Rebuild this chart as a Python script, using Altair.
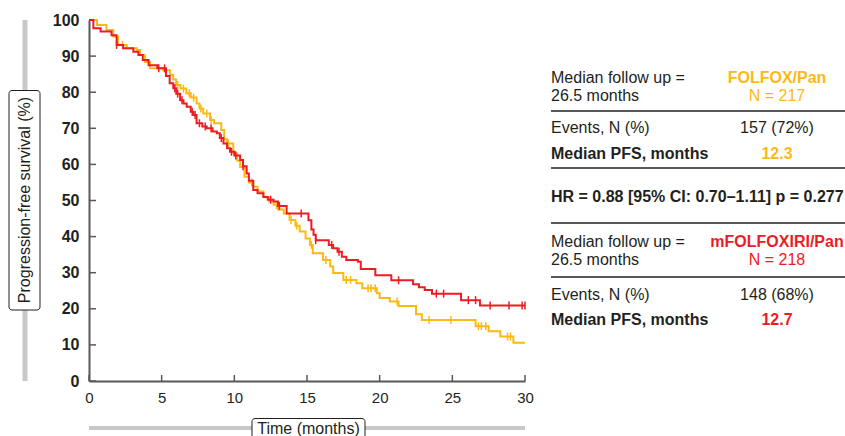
import altair as alt
import pandas as pd

# ---------------- data ----------------
arm_names = ["FOLFOX/Pan", "mFOLFOXIRI/Pan"]
arm_colors = ["#FDB913", "#ED1C24"]

folfox_t = [0, 0.55, 1.2, 1.67, 2.0, 2.6, 3.3, 3.5, 3.85, 4.2, 5.1, 5.57, 5.8, 6.0, 6.3, 6.7, 7.0, 7.4,
            7.6, 7.86, 8.33, 8.6, 9.1, 9.3, 9.5, 9.93, 10.2, 10.4, 10.7, 11.0, 11.3, 11.6, 12.0, 12.4,
            12.7, 13.0, 13.4, 13.8, 14.2, 14.5, 14.9, 15.2, 15.4, 16.1, 16.6, 16.8, 17.5, 18.4, 18.8,
            19.8, 20.0, 20.7, 21.3, 22.5, 22.9, 26.6, 27.5, 28.3, 29.2, 30.0]
folfox_s = [100, 98.6, 97.2, 95.4, 93.1, 92.2, 91.7, 90.3, 88.4, 86.6, 86.1, 84.8, 83.5, 82.0, 81.0,
            79.7, 78.5, 76.9, 75.5, 74.1, 72.3, 71.4, 69.5, 67.0, 65.8, 63.0, 61.0, 59.3, 56.6, 55.0,
            53.8, 52.5, 51.0, 49.7, 48.8, 47.5, 46.4, 44.6, 43.0, 41.4, 39.5, 37.7, 35.4, 33.5, 31.7,
            29.9, 28.0, 27.1, 25.7, 24.3, 23.0, 22.0, 20.8, 18.5, 16.9, 15.2, 13.8, 12.3, 10.6, 10.6]

mfolfoxiri_t = [0, 0.3, 0.8, 1.55, 1.9, 2.35, 3.05, 3.4, 3.7, 4.1, 4.7, 5.3, 5.55, 5.8, 6.0, 6.27, 6.5,
                6.72, 7.0, 7.18, 7.4, 7.8, 8.1, 8.5, 8.8, 9.0, 9.25, 9.5, 9.7, 10.0, 10.4, 10.6, 10.85,
                11.0, 11.3, 11.6, 12.0, 12.3, 12.7, 13.0, 13.6, 15.1, 15.3, 15.45, 15.6, 16.5, 16.8,
                17.1, 17.4, 17.7, 18.5, 18.7, 19.7, 20.8, 22.3, 22.7, 23.1, 23.6, 25.6, 26.9, 30.0]
mfolfoxiri_s = [100, 97.7, 96.8, 95.8, 93.1, 92.2, 91.2, 90.3, 88.9, 87.5, 86.6, 84.5, 82.5, 81.1,
                79.6, 77.8, 76.9, 76.0, 74.6, 73.7, 71.4, 70.5, 70.0, 69.1, 68.6, 67.3, 65.8, 64.5,
                63.5, 62.5, 61.2, 59.5, 57.5, 55.5, 52.9, 52.0, 51.0, 50.2, 49.7, 48.5, 46.4, 44.5,
                42.0, 40.5, 39.0, 37.7, 36.8, 35.8, 34.4, 33.5, 33.0, 31.0, 29.3, 27.9, 26.8, 26.0,
                25.2, 24.2, 22.4, 20.9, 20.9]

folfox_censor = [2.3, 6.1, 6.5, 6.9, 7.2, 7.7, 8.1, 8.4, 9.6, 11.2, 12.9, 13.9, 14.3, 15.3, 16.3,
                 17.7, 18.0, 19.2, 19.4, 19.7, 21.2, 23.4, 24.9, 26.8, 27.0, 27.3, 28.8, 29.0]
mfolfoxiri_censor = [1.9, 4.8, 5.2, 5.9, 6.1, 6.4, 7.1, 7.3, 7.6, 8.0, 8.4, 9.1, 9.8, 10.1, 10.6,
                     12.5, 13.1, 14.6, 15.6, 16.7, 17.2, 21.3, 23.9, 24.4, 26.1, 26.6, 27.6, 28.9,
                     29.8, 30.0]

x_ticks = [0, 5, 10, 15, 20, 25, 30]
y_ticks = [0, 10, 20, 30, 40, 50, 60, 70, 80, 90, 100]

y_title = "Progression-free survival (%)"
x_title = "Time (months)"

followup_lines = ["Median follow up =", "26.5 months"]
arm_n = ["N = 217", "N = 218"]
events_label = "Events, N (%)"
events_vals = ["157 (72%)", "148 (68%)"]
pfs_label = "Median PFS, months"
pfs_vals = ["12.3", "12.7"]
hr_text = "HR = 0.88 [95% CI: 0.70\u20131.11] p = 0.277"

# ---------------- style / layout ----------------
FONT = "Liberation Sans"
DARK = "#231F20"
AXIS = "#58595B"
GRAY = "#C8C8C8"
W, H = 436, 361

def step_at(ts, ss, t):
    idx = max(i for i, tt in enumerate(ts) if tt <= t)
    return ss[idx]

curves = [(folfox_t, folfox_s, folfox_censor), (mfolfoxiri_t, mfolfoxiri_s, mfolfoxiri_censor)]

xs = alt.Scale(domain=[0, 30], nice=False)
ys = alt.Scale(domain=[0, 100], nice=False)

AXX = alt.Axis(values=x_ticks, title=None, grid=False, ticks=False, tickCount=7,
               domainColor=AXIS, domainWidth=2, labelFont=FONT,
               labelFontSize=15, labelColor=DARK, labelPadding=9,
               labelFlush=False, labelOverlap=False)
AXY = alt.Axis(values=y_ticks, title=None, grid=False, ticks=False, tickCount=11,
               domainColor=AXIS, domainWidth=2, labelFont=FONT,
               labelFontSize=16, labelFontWeight="bold",
               labelColor=DARK, labelPadding=10,
               labelFlush=False, labelOverlap=False)

one = pd.DataFrame({"a": [0]})
layers = []

# decorations: gray axis bars and title boxes
layers.append(alt.Chart(one).mark_rule(color=GRAY, strokeWidth=5).encode(
    x=alt.value(-64), y=alt.value(0), y2=alt.value(H)))
layers.append(alt.Chart(one).mark_rule(color=GRAY, strokeWidth=4).encode(
    x=alt.value(0), x2=alt.value(W), y=alt.value(408)))
layers.append(alt.Chart(one).mark_rect(fill="white", stroke=DARK, strokeWidth=1, cornerRadius=3).encode(
    x=alt.value(-80), x2=alt.value(-49), y=alt.value(70.5), y2=alt.value(290)))
layers.append(alt.Chart(one).mark_rect(fill="white", stroke=DARK, strokeWidth=1, cornerRadius=3).encode(
    x=alt.value(163), x2=alt.value(276), y=alt.value(398.5), y2=alt.value(430)))
layers.append(alt.Chart(one).mark_text(font=FONT, fontSize=16, color=DARK, angle=270,
                                       align="center", baseline="middle").encode(
    x=alt.value(-64), y=alt.value(180), text=alt.value(y_title)))
layers.append(alt.Chart(one).mark_text(font=FONT, fontSize=16, color=DARK,
                                       align="center", baseline="middle").encode(
    x=alt.value(219.5), y=alt.value(408.5), text=alt.value(x_title)))

# inward tick marks, positioned through the scales
tick_df_x = pd.DataFrame({"t": x_ticks})
tick_df_y = pd.DataFrame({"v": y_ticks})

layers.append(alt.Chart(tick_df_x).mark_rule(color=AXIS, strokeWidth=1.5).encode(
    x=alt.X("t:Q", scale=xs, axis=AXX), y=alt.value(H), y2=alt.value(H - 6)))
layers.append(alt.Chart(tick_df_y).mark_rule(color=AXIS, strokeWidth=1.5).encode(
    y=alt.Y("v:Q", scale=ys, axis=AXY), x=alt.value(0), x2=alt.value(7)))

# survival curves and censor marks
for (ts, ss, cens), name, col in zip(curves, arm_names, arm_colors):
    df = pd.DataFrame({"t": ts, "s": ss})
    layers.append(alt.Chart(df).mark_line(interpolate="step-after", color=col, strokeWidth=2).encode(
        x=alt.X("t:Q", scale=xs, axis=AXX), y=alt.Y("s:Q", scale=ys, axis=AXY)))
    cdf = pd.DataFrame({"t": cens, "s": [step_at(ts, ss, c) for c in cens]})
    layers.append(alt.Chart(cdf).mark_point(shape="M0,-1L0,1", size=64, color=col, strokeWidth=1.5,
                                            filled=False, opacity=1).encode(
        x=alt.X("t:Q", scale=xs, axis=AXX), y=alt.Y("s:Q", scale=ys, axis=AXY)))

# ---------------- table at right ----------------
LX, CX, RX2 = 462, 688, 756
block_rows = [
    {"l1": 58, "l2": 76, "r1": 91, "ev": 108, "pfs": 134},
    {"l1": 222, "l2": 240, "r1": 257, "ev": 275, "pfs": 300},
]

def txt(s, x, y, color=DARK, bold=False, align="left"):
    return alt.Chart(one).mark_text(font=FONT, fontSize=16, color=color,
                                    fontWeight="bold" if bold else "normal",
                                    align=align, baseline="middle").encode(
        x=alt.value(x), y=alt.value(y), text=alt.value(s))

def hrule(y):
    return alt.Chart(one).mark_rule(color=DARK, strokeWidth=1.3).encode(
        x=alt.value(LX), x2=alt.value(RX2), y=alt.value(y))

for i, rows in enumerate(block_rows):
    col = arm_colors[i]
    layers.append(txt(followup_lines[0], LX, rows["l1"]))
    layers.append(txt(followup_lines[1], LX, rows["l2"]))
    layers.append(txt(arm_names[i], CX, rows["l1"], color=col, bold=True, align="center"))
    layers.append(txt(arm_n[i], CX, rows["l2"], color=col, align="center"))
    layers.append(hrule(rows["r1"]))
    layers.append(txt(events_label, LX, rows["ev"]))
    layers.append(txt(events_vals[i], CX, rows["ev"], align="center"))
    layers.append(txt(pfs_label, LX, rows["pfs"], bold=True))
    layers.append(txt(pfs_vals[i], CX, rows["pfs"], color=col, bold=True, align="center"))

layers.append(hrule(148))
layers.append(hrule(203))
layers.append(txt(hr_text, LX, 177, bold=True))

chart = alt.layer(*layers).properties(
    width=W, height=H,
    autosize=alt.AutoSizeParams(type="none"),
    padding={"left": 89, "top": 20, "right": 320, "bottom": 55},
    background="white",
).configure_view(stroke="transparent").configure_axis(labelOverlap=False)

chart.save("out.html", embed_options={"renderer": "svg", "actions": False})
